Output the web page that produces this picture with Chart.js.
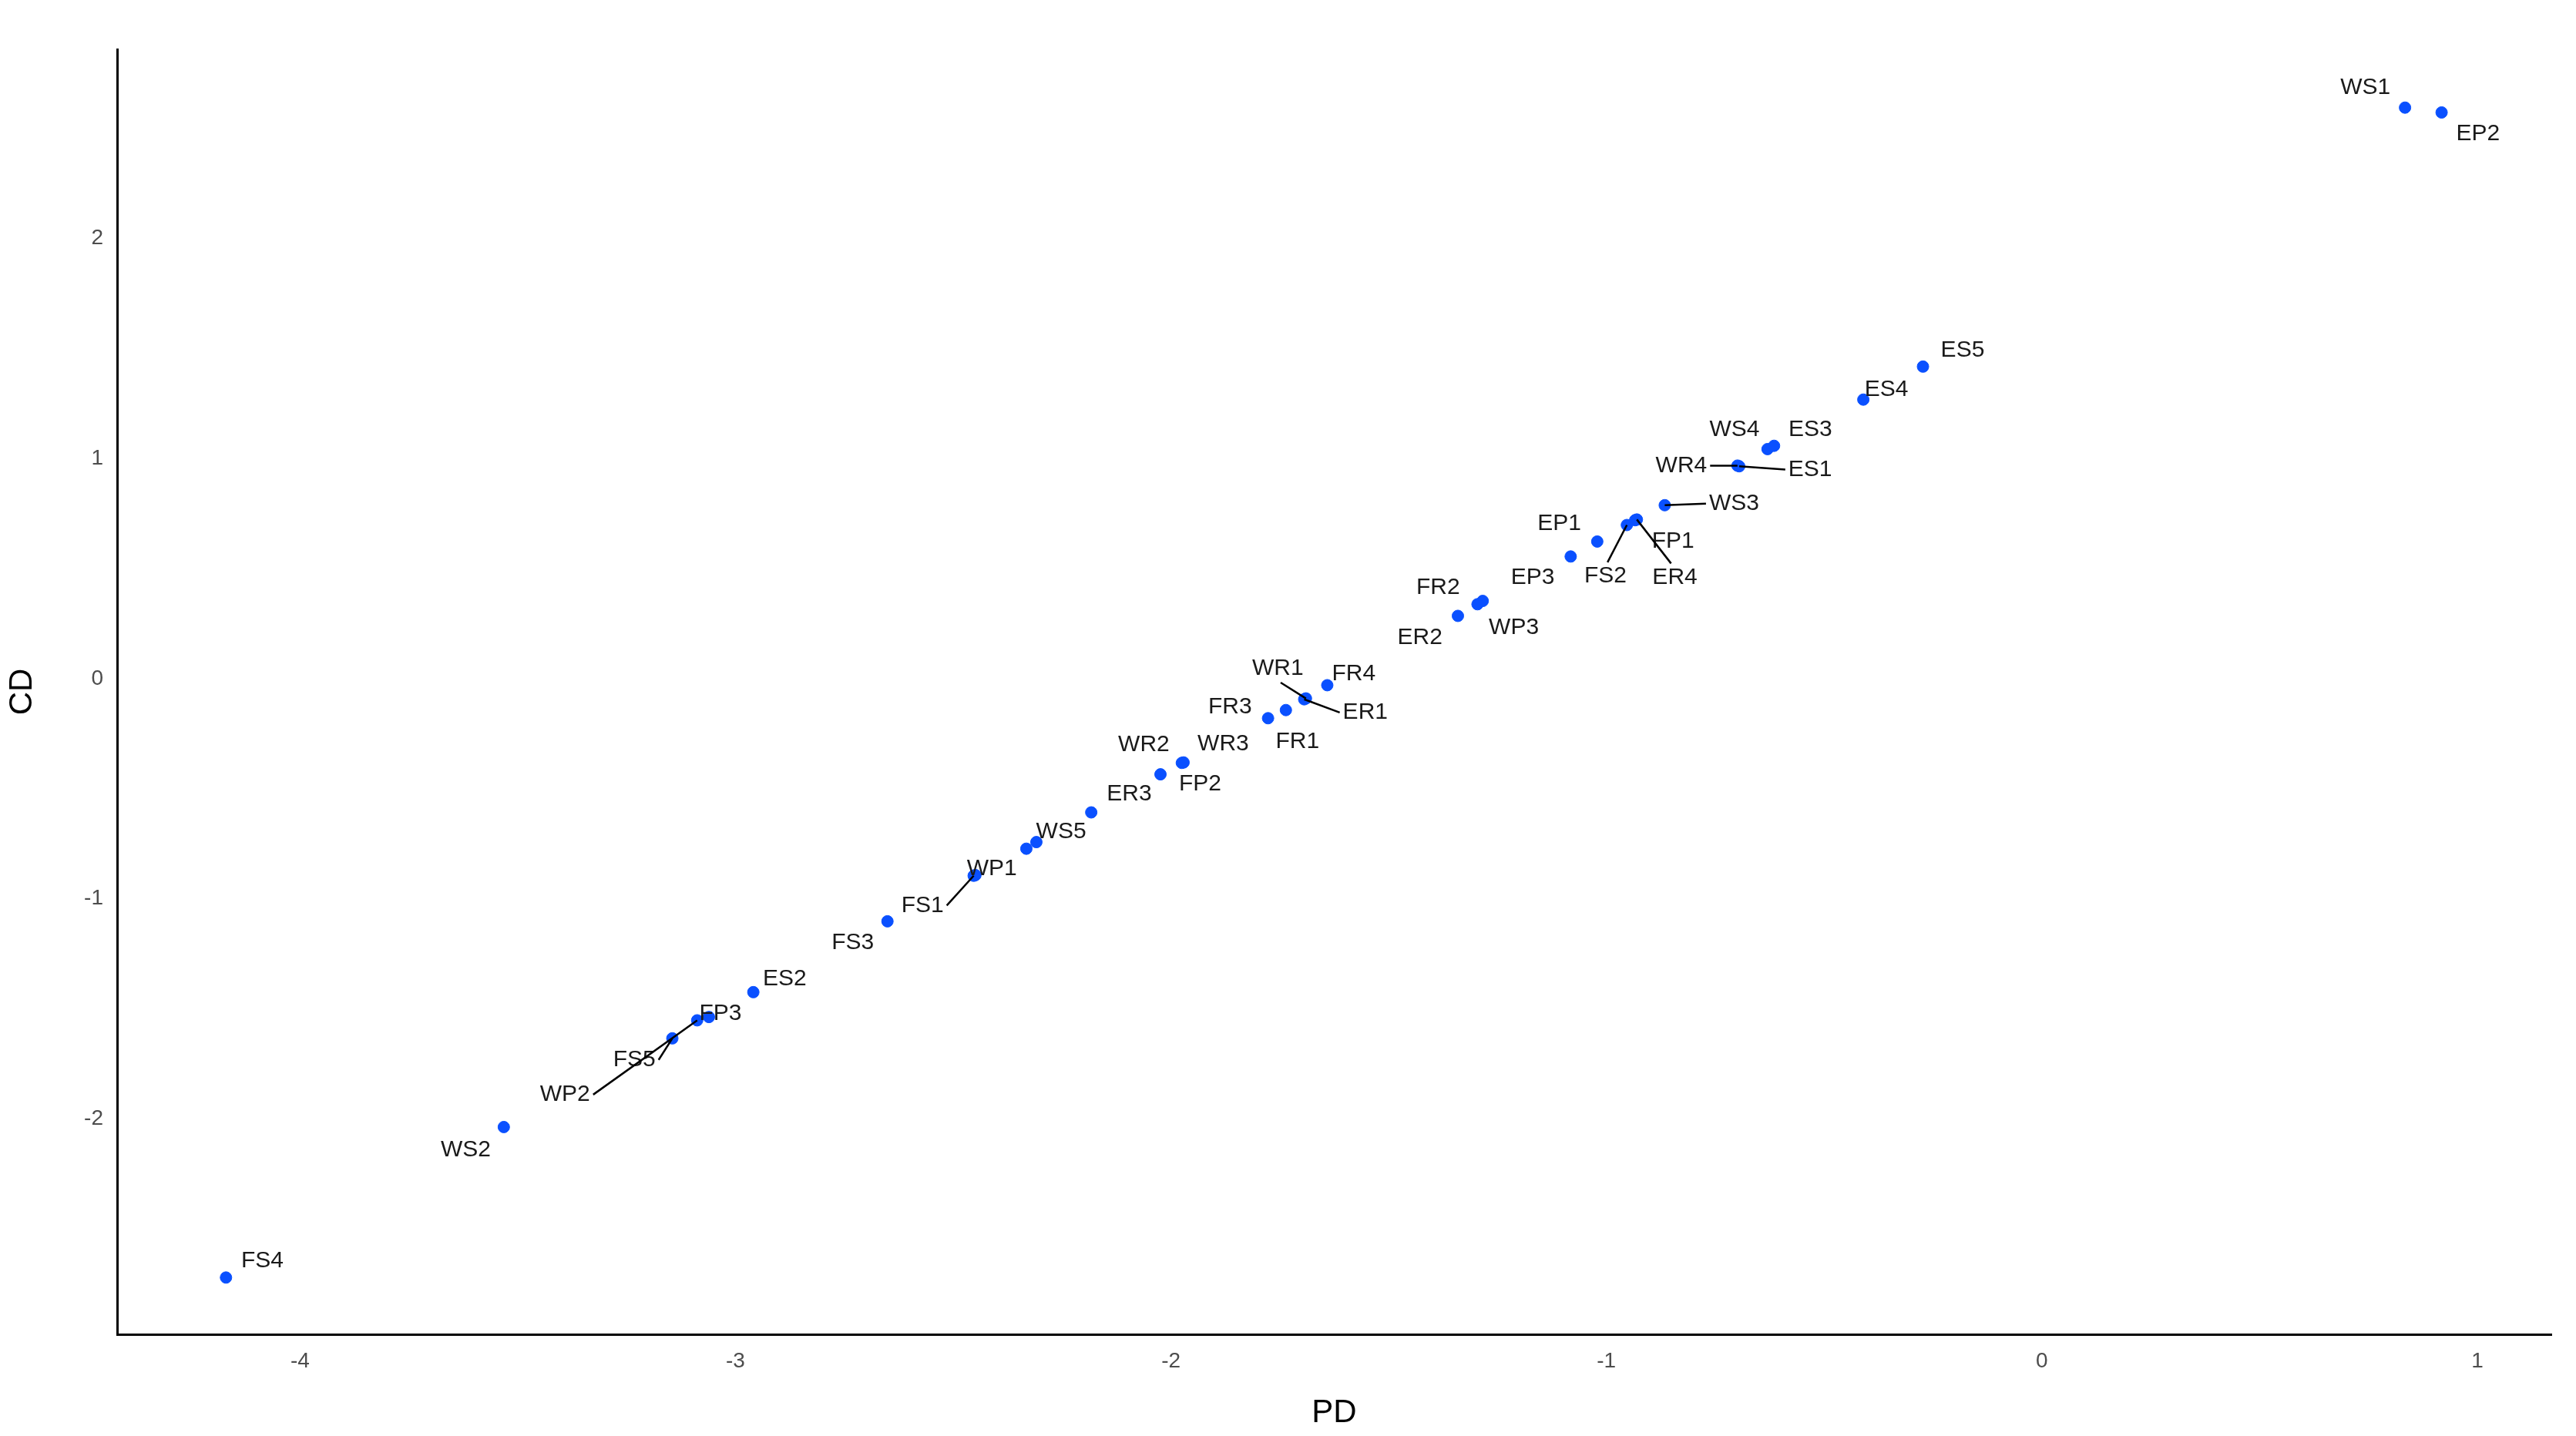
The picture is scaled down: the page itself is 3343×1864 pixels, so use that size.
<!DOCTYPE html>
<html><head><meta charset="utf-8">
<script src="https://cdn.jsdelivr.net/npm/chart.js@4"></script>
<style>html,body{margin:0;padding:0;background:#fff}#w{width:3343px;height:1864px}</style>
</head><body><div id="w"><canvas id="c"></canvas></div>
<script>
const labels = ["WS1","EP2","ES5","ES4","WS4","ES3","WR4","ES1","WS3","EP1","EP3","FS2","FP1","ER4","FR2","WP3","ER2","WR1","ER1","FR4","FR3","FR1","WR2","WR3","FP2","ER3","WS5","","WP1","FS1","FS3","ES2","FP3","FS5","WP2","WS2","FS4"];
const pdValues = [0.834,0.918,-0.273,-0.410,-0.630,-0.615,-0.699,-0.695,-0.866,-1.021,-1.082,-0.953,-0.934,-0.930,-1.284,-1.296,-1.341,-1.690,-1.694,-1.641,-1.777,-1.736,-1.975,-1.971,-2.024,-2.183,-2.309,-2.332,-2.449,-2.453,-2.651,-2.959,-3.061,-3.145,-3.088,-3.532,-4.170];
const cdValues = [2.595,2.573,1.418,1.268,1.043,1.058,0.968,0.965,0.788,0.623,0.555,0.698,0.720,0.723,0.353,0.338,0.285,-0.090,-0.094,-0.030,-0.180,-0.143,-0.383,-0.381,-0.435,-0.608,-0.743,-0.773,-0.893,-0.896,-1.103,-1.425,-1.538,-1.635,-1.553,-2.038,-2.722];
const xTicks = [-4,-3,-2,-1,0,1];
const yTicks = [-2,-1,0,1,2];
// label offsets (display px) and leader-line flags
const labelDx = [-24,22,24,14,-20,22,-34,43,42,-23,-23,-13,23,23,-27,22,-23,-17,37,16,-23,7,-23,24,24,23,15,0,10,-31,-21,19,7,-23,-80,-23,22];
const labelDy = [-12,13,-10,-6,-12,-10,0,2,-1,-11,13,31,13,35,-8,14,13,-18,8,-7,-7,19,-11,-11,6,-11,-6,0,-4,18,13,-8,-2,13,45,14,-10];
const leader = [0,0,0,0,0,0,1,1,1,0,0,1,0,1,0,0,0,1,1,0,0,0,0,0,0,0,0,0,0,1,0,0,0,1,1,0,0];
const S = 2.143;
const pts = pdValues.map((x,i)=>({x, y: cdValues[i]}));

const labelPlugin = {
  id:'lbl',
  afterDatasetsDraw(chart){
    const ctx = chart.ctx, meta = chart.getDatasetMeta(0);
    ctx.save();
    ctx.font = '30px "Liberation Sans", Arial, sans-serif';
    ctx.textAlign='center'; ctx.textBaseline='middle';
    meta.data.forEach((el,i)=>{
      if(!labels[i]) return;
      const px=el.x, py=el.y, lx=px+labelDx[i]*S, ly=py+labelDy[i]*S;
      if(leader[i]){
        const w = ctx.measureText(labels[i]).width/2+4;
        let ex=lx, ey=ly;
        const dx=lx-px, dy=ly-py;
        if(Math.abs(dx)*0.6>Math.abs(dy)){ ex = lx - Math.sign(dx)*w; }
        else { ey = ly - Math.sign(dy)*18; ex = lx - dx*0.1; }
        ctx.strokeStyle='#000'; ctx.lineWidth=2.5;
        ctx.beginPath(); ctx.moveTo(px,py); ctx.lineTo(ex,ey); ctx.stroke();
      }
      ctx.fillStyle='#1a1a1a';
      ctx.fillText(labels[i], lx, ly);
    });
    ctx.restore();
  }
};

new Chart(document.getElementById('c'),{
  type:'scatter',
  data:{datasets:[{data:pts, backgroundColor:'#0a50ff', borderColor:'#0a50ff', pointRadius:7.5, pointHoverRadius:7.5}]},
  options:{
    responsive:true, maintainAspectRatio:false, animation:false,
    devicePixelRatio:1,
    layout:{padding:{top:64,right:32,left:0,bottom:0}},
    plugins:{legend:{display:false},tooltip:{enabled:false}},
    scales:{
      x:{type:'linear',min:-4.42,max:1.17,
        afterBuildTicks(s){s.ticks=xTicks.map(v=>({value:v}));},
        afterFit(s){s.height=132;},
        grid:{display:false,drawTicks:true,tickLength:10,tickColor:'#333'},
        border:{display:true,color:'#000',width:3},
        ticks:{color:'#4d4d4d',font:{size:28,family:'"Liberation Sans", Arial, sans-serif'},padding:8},
        title:{display:true,text:'PD',color:'#000',font:{size:42,family:'"Liberation Sans", Arial, sans-serif'},padding:{top:4}}
      },
      y:{type:'linear',min:-2.98,max:2.86,
        afterBuildTicks(s){s.ticks=yTicks.map(v=>({value:v}));},
        afterFit(s){s.width=152;},
        grid:{display:false,drawTicks:true,tickLength:10,tickColor:'#333'},
        border:{display:true,color:'#000',width:3},
        ticks:{color:'#4d4d4d',font:{size:28,family:'"Liberation Sans", Arial, sans-serif'},padding:8},
        title:{display:true,text:'CD',color:'#000',font:{size:42,family:'"Liberation Sans", Arial, sans-serif'},padding:{bottom:10}}
      }
    }
  },
  plugins:[labelPlugin]
});
</script></body></html>
